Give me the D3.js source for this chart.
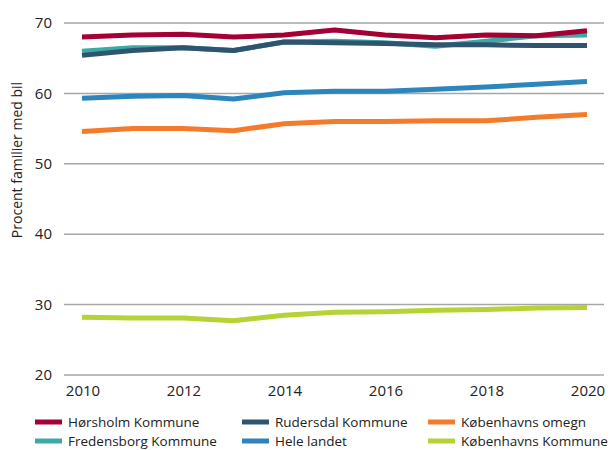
<!DOCTYPE html>
<html>
<head>
<meta charset="utf-8">
<script src="https://cdn.jsdelivr.net/npm/d3@7"></script>
<style>
  body { margin: 0; background: #fff; }
  svg { display: block; font-family: "Open Sans", sans-serif; }
</style>
</head>
<body>
<svg id="chart" width="612" height="450"></svg>
<script>
// Car ownership share per municipality, 2010–2020
const years = [2010, 2011, 2012, 2013, 2014, 2015, 2016, 2017, 2018, 2019, 2020];
const yTicks = [20, 30, 40, 50, 60, 70];
const xTicks = [2010, 2012, 2014, 2016, 2018, 2020];

const hoersholm   = [68.0, 68.3, 68.4, 68.0, 68.3, 69.0, 68.3, 67.9, 68.3, 68.2, 68.9];
const fredensborg = [66.0, 66.5, 66.5, 66.1, 67.3, 67.4, 67.2, 66.7, 67.4, 68.2, 68.3];
const rudersdal   = [65.4, 66.1, 66.5, 66.1, 67.3, 67.2, 67.1, 66.9, 66.9, 66.8, 66.8];
const helelandet  = [59.3, 59.6, 59.7, 59.2, 60.1, 60.3, 60.3, 60.6, 60.9, 61.3, 61.7];
const omegn       = [54.6, 55.0, 55.0, 54.7, 55.7, 56.0, 56.0, 56.1, 56.1, 56.6, 57.0];
const kbhKommune  = [28.2, 28.1, 28.1, 27.7, 28.5, 28.9, 29.0, 29.2, 29.3, 29.5, 29.6];

const seriesNames = ['Hørsholm Kommune', 'Rudersdal Kommune', 'Københavns omegn',
                     'Fredensborg Kommune', 'Hele landet', 'Københavns Kommune'];
const seriesValues = [hoersholm, rudersdal, omegn, fredensborg, helelandet, kbhKommune];
const seriesColors = ['#A50034', '#2E5470', '#F47B2B', '#3BAAA6', '#2D85BD', '#B5D334'];

// draw order (back to front) as in the original
const drawOrder = [5, 2, 4, 3, 1, 0];

const svg = d3.select('#chart');

const plotL = 64, plotR = 604, plotT = 23, plotB = 375;

const x = d3.scaleLinear().domain([2010, 2020]).range([82, 587]);
const y = d3.scaleLinear().domain([20, 70]).range([plotB, plotT]);

// Gridlines
svg.append('g')
  .selectAll('line')
  .data(yTicks)
  .join('line')
  .attr('x1', plotL).attr('x2', plotR)
  .attr('y1', d => y(d)).attr('y2', d => y(d))
  .attr('stroke', '#A6A6A6').attr('stroke-width', 1.5);

// Y tick labels
svg.append('g')
  .selectAll('text')
  .data(yTicks)
  .join('text')
  .attr('x', 52).attr('y', d => y(d)).attr('dy', '0.35em')
  .attr('text-anchor', 'end')
  .attr('fill', '#222').attr('font-size', 15)
  .text(d => d);

// X tick labels
svg.append('g')
  .selectAll('text')
  .data(xTicks)
  .join('text')
  .attr('x', d => x(d) + 1).attr('y', 396)
  .attr('text-anchor', 'middle')
  .attr('fill', '#222').attr('font-size', 15)
  .text(d => d);

// Y axis title
svg.append('text')
  .attr('transform', 'translate(22,160) rotate(-90)')
  .attr('text-anchor', 'middle')
  .attr('fill', '#222').attr('font-size', 14)
  .text('Procent familier med bil');

// Lines
const line = d3.line()
  .x((d, i) => x(years[i]))
  .y(d => y(d));

svg.append('g')
  .selectAll('path')
  .data(drawOrder)
  .join('path')
  .attr('d', i => line(seriesValues[i]))
  .attr('fill', 'none')
  .attr('stroke', i => seriesColors[i])
  .attr('stroke-width', 5)
  .attr('stroke-linejoin', 'round');

// Legend, 3 columns x 2 rows
const colX = [35, 242, 428];
const rowY = [422, 441];
const lg = svg.append('g');
seriesNames.forEach((name, i) => {
  const cx = colX[i % 3], cy = rowY[Math.floor(i / 3)];
  lg.append('line')
    .attr('x1', cx).attr('x2', cx + 27)
    .attr('y1', cy).attr('y2', cy)
    .attr('stroke', seriesColors[i]).attr('stroke-width', 5);
  lg.append('text')
    .attr('x', cx + 33).attr('y', cy).attr('dy', '0.35em')
    .attr('fill', '#222').attr('font-size', 13.5)
    .text(name);
});
</script>
</body>
</html>
